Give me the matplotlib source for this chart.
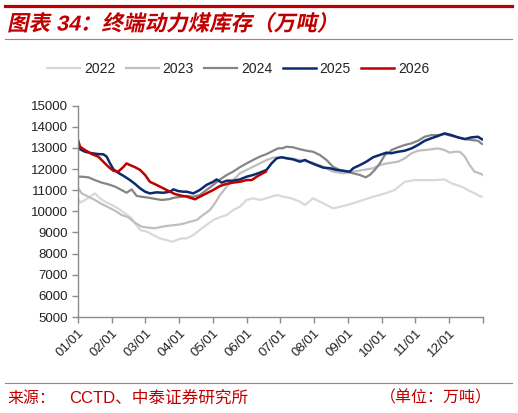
import matplotlib
matplotlib.use("Agg")
import matplotlib.pyplot as plt
from matplotlib.lines import Line2D
from matplotlib.transforms import Affine2D
from matplotlib.patheffects import AbstractPathEffect

plt.rcParams['font.family'] = ['Liberation Sans', 'Noto Sans CJK SC', 'DejaVu Sans']

# ---- data: (month position from 01/01, inventory in 10k tonnes) ----
s2022 = [(0, 10620), (0.06, 10410), (0.21, 10540), (0.36, 10690), (0.50, 10850), (0.65, 10620),
         (0.80, 10460), (1.00, 10300), (1.19, 10140), (1.39, 9910), (1.59, 9670), (1.69, 9440),
         (1.84, 9120), (2.04, 9040), (2.23, 8880), (2.43, 8720), (2.63, 8640), (2.78, 8560),
         (2.92, 8640), (3.07, 8720), (3.22, 8720), (3.42, 8880), (3.61, 9120), (3.81, 9360),
         (4.01, 9590), (4.21, 9720), (4.41, 9830), (4.60, 10060), (4.80, 10220), (5.00, 10540),
         (5.19, 10620), (5.39, 10540), (5.59, 10620), (5.79, 10730), (5.93, 10770), (6.08, 10690),
         (6.28, 10640), (6.58, 10460), (6.73, 10300), (6.97, 10620), (7.27, 10380), (7.56, 10140),
         (7.86, 10250), (8.16, 10380), (8.46, 10540), (8.75, 10690), (9.05, 10820), (9.39, 11010),
         (9.69, 11400), (9.99, 11480), (10.28, 11480), (10.58, 11480), (10.87, 11510), (11.07, 11330),
         (11.37, 11170), (11.66, 10930), (11.96, 10690)]
s2023 = [(0, 11120), (0.11, 10850), (0.31, 10690), (0.50, 10540), (0.70, 10350), (0.90, 10190),
         (1.10, 10030), (1.29, 9830), (1.49, 9720), (1.69, 9460), (1.89, 9270), (2.08, 9230),
         (2.28, 9200), (2.48, 9270), (2.68, 9320), (2.87, 9350), (3.07, 9390), (3.32, 9510),
         (3.52, 9590), (3.71, 9830), (3.91, 10060), (4.06, 10380), (4.21, 10770), (4.41, 11170),
         (4.60, 11480), (4.80, 11800), (5.00, 11960), (5.19, 12110), (5.39, 12270), (5.59, 12430),
         (5.79, 12540), (5.99, 12560), (6.18, 12540), (6.58, 12430), (6.97, 12300), (7.27, 12110),
         (7.56, 11880), (7.86, 11800), (8.16, 11880), (8.46, 11960), (8.75, 12040), (8.95, 12190),
         (9.10, 12250), (9.29, 12300), (9.49, 12350), (9.69, 12510), (9.89, 12750), (10.08, 12870),
         (10.28, 12900), (10.48, 12940), (10.68, 12980), (10.87, 12900), (11.02, 12780), (11.17, 12820),
         (11.32, 12820), (11.47, 12590), (11.61, 12190), (11.76, 11880), (11.96, 11770), (12.0, 11720)]
s2024 = [(0, 11640), (0.11, 11640), (0.31, 11610), (0.50, 11480), (0.70, 11360), (0.90, 11280),
         (1.10, 11170), (1.29, 11010), (1.44, 10880), (1.59, 11040), (1.74, 10730), (1.89, 10690),
         (2.08, 10650), (2.28, 10590), (2.48, 10540), (2.68, 10570), (2.87, 10650), (3.07, 10690),
         (3.22, 10730), (3.42, 10690), (3.61, 10770), (3.81, 11010), (4.01, 11250), (4.21, 11510),
         (4.41, 11720), (4.60, 11880), (4.80, 12090), (5.00, 12270), (5.19, 12430), (5.39, 12590),
         (5.59, 12710), (5.79, 12870), (5.93, 12980), (6.08, 12990), (6.18, 13060), (6.38, 13030),
         (6.58, 12940), (6.78, 12870), (6.97, 12820), (7.17, 12670), (7.37, 12430), (7.56, 12110),
         (7.76, 11960), (7.96, 11880), (8.16, 11800), (8.36, 11720), (8.53, 11610), (8.65, 11720),
         (8.80, 11960), (8.95, 12270), (9.10, 12670), (9.24, 12780), (9.29, 12900), (9.49, 13030),
         (9.69, 13140), (9.89, 13220), (10.08, 13340), (10.28, 13530), (10.48, 13610), (10.68, 13610),
         (10.87, 13660), (11.07, 13570), (11.27, 13500), (11.47, 13420), (11.66, 13380), (11.86, 13340),
         (11.98, 13190)]
s2025 = [(0, 13100), (0.06, 12940), (0.21, 12820), (0.41, 12750), (0.60, 12710), (0.75, 12700),
         (0.85, 12590), (0.95, 12270), (1.05, 11990), (1.19, 11830), (1.39, 11640), (1.54, 11480),
         (1.69, 11300), (1.84, 11090), (1.99, 10930), (2.13, 10850), (2.33, 10900), (2.53, 10880),
         (2.73, 10930), (2.83, 11040), (2.97, 10960), (3.12, 10930), (3.22, 10930), (3.42, 10850),
         (3.61, 11010), (3.81, 11250), (4.01, 11400), (4.11, 11510), (4.26, 11360), (4.41, 11450),
         (4.60, 11450), (4.80, 11510), (5.00, 11640), (5.19, 11720), (5.39, 11830), (5.59, 11960),
         (5.74, 12270), (5.89, 12510), (6.04, 12560), (6.18, 12510), (6.38, 12460), (6.58, 12350),
         (6.73, 12430), (6.87, 12320), (7.07, 12190), (7.27, 12070), (7.47, 12040), (7.67, 11960),
         (7.86, 11920), (8.06, 11880), (8.16, 12040), (8.36, 12190), (8.55, 12350), (8.75, 12560),
         (8.95, 12670), (9.15, 12780), (9.29, 12750), (9.49, 12820), (9.69, 12870), (9.89, 12980),
         (10.08, 13140), (10.28, 13340), (10.48, 13460), (10.68, 13570), (10.87, 13690), (11.07, 13610),
         (11.27, 13500), (11.47, 13420), (11.66, 13500), (11.86, 13530), (11.98, 13410)]
s2026 = [(0, 13380), (0.06, 13060), (0.21, 12900), (0.41, 12710), (0.60, 12590), (0.75, 12350),
         (0.90, 12110), (1.05, 11920), (1.19, 11880), (1.34, 12090), (1.44, 12270), (1.54, 12190),
         (1.69, 12090), (1.84, 11960), (1.99, 11720), (2.13, 11400), (2.33, 11250), (2.53, 11090),
         (2.73, 10930), (2.87, 10820), (3.07, 10740), (3.22, 10700), (3.47, 10570), (3.61, 10690),
         (3.81, 10850), (4.01, 11010), (4.21, 11200), (4.41, 11300), (4.60, 11360), (4.80, 11400),
         (5.00, 11480), (5.15, 11480), (5.30, 11640), (5.44, 11770), (5.57, 11880)]

years = ["2022", "2023", "2024", "2025", "2026"]
series = [s2022, s2023, s2024, s2025, s2026]
colors = ["#d9d9d9", "#bfbfbf", "#858585", "#0c2a6e", "#c00000"]
widths = [1.6, 1.6, 1.6, 1.8, 1.8]
month_labels = ["01/01", "02/01", "03/01", "04/01", "05/01", "06/01",
                "07/01", "08/01", "09/01", "10/01", "11/01", "12/01"]
y_ticks = list(range(5000, 15001, 1000))

TITLE = "图表 34：终端动力煤库存（万吨）"
SOURCE_L = "来源："
SOURCE_M = "CCTD、中泰证券研究所"
SOURCE_R = "（单位：万吨）"


class Skew(AbstractPathEffect):
    def __init__(self, deg):
        super().__init__()
        self.deg = deg

    def draw_path(self, renderer, gc, tpath, affine, rgbFace=None):
        renderer.draw_path(gc, tpath, Affine2D().skew_deg(self.deg, 0) + affine, rgbFace)


W, H = 518, 413
fig = plt.figure(figsize=(W / 100, H / 100), dpi=100)
ax = fig.add_axes([78 / W, 1 - 317 / H, (482.7 - 78) / W, (317 - 105.7) / H])

for yr, s, c, lw in zip(years, series, colors, widths):
    xs = [p[0] for p in s]
    ys = [p[1] for p in s]
    ax.plot(xs, ys, color=c, lw=lw, label=yr, solid_joinstyle='round')

ax.set_xlim(0, 12)
ax.set_ylim(5000, 15000)
ax.set_yticks(y_ticks)
ax.set_yticklabels([str(v) for v in y_ticks])
ax.set_xticks(list(range(13)))
ax.set_xticklabels(month_labels + [""], rotation=45, ha='right', rotation_mode='anchor')

for side in ['top', 'right']:
    ax.spines[side].set_visible(False)
for side in ['left', 'bottom']:
    ax.spines[side].set_color('#8c8c8c')
    ax.spines[side].set_linewidth(1.0)
ax.tick_params(axis='both', direction='out', length=4, width=1.0, color='#8c8c8c',
               labelsize=9.5, labelcolor='#222222')
ax.tick_params(axis='x', pad=3)
ax.tick_params(axis='y', pad=3)

leg = ax.legend(loc='center', bbox_to_anchor=(238 / W, 1 - 69 / H), bbox_transform=fig.transFigure,
                ncol=5, frameon=False, fontsize=10, handlelength=2.4, handletextpad=0.25,
                columnspacing=0.75, borderpad=0)
for t in leg.get_texts():
    t.set_color('#222222')

red = '#c00000'
fig.add_artist(Line2D([5 / W, 512 / W], [1 - 5.5 / H] * 2, color=red, lw=2.3))
fig.add_artist(Line2D([5 / W, 512 / W], [1 - 39 / H] * 2, color='#d46a6a', lw=0.8))
fig.add_artist(Line2D([5 / W, 512 / W], [1 - 383 / H] * 2, color='#d46a6a', lw=0.8))

fig.text(7 / W, 1 - 25 / H, TITLE, color=red, fontsize=15.5, fontweight='bold', va='center', ha='left',
         path_effects=[Skew(12)])
fig.text(7 / W, 1 - 398 / H, SOURCE_L, color=red, fontsize=11.5, va='center', ha='left',
         family=['Noto Sans CJK SC'])
fig.text(69 / W, 1 - 398 / H, SOURCE_M, color=red, fontsize=12, va='center', ha='left',
         family=['Liberation Sans', 'Noto Sans CJK SC'])
fig.text(492 / W, 1 - 398 / H, SOURCE_R, color=red, fontsize=11.5, va='center', ha='right',
         family=['Noto Sans CJK SC'])

fig.savefig("out.png", dpi=100)
